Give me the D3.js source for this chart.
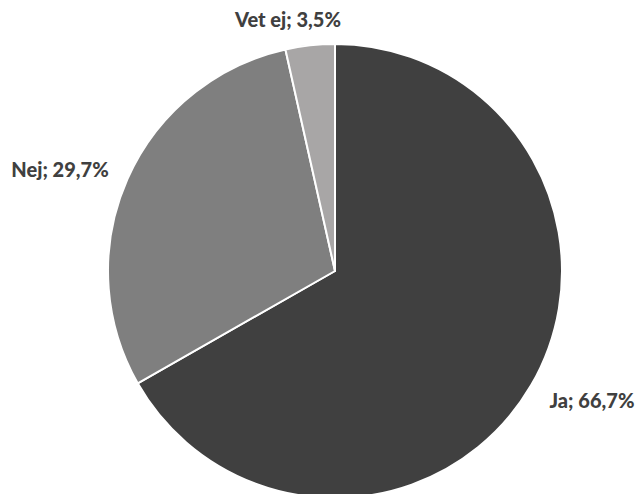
<!DOCTYPE html>
<html><head><meta charset="utf-8">
<script src="https://cdn.jsdelivr.net/npm/d3@7"></script>
<style>body{margin:0;background:#fff}</style>
</head><body>
<svg id="chart" width="637" height="494"></svg>
<script>
const categories = ["Ja", "Nej", "Vet ej"];
const values = [66.7, 29.7, 3.5];
const labels = ["Ja; 66,7%", "Nej; 29,7%", "Vet ej; 3,5%"];
const colors = ["#404040", "#7f7f7f", "#a8a6a6"];
const labelPos = [[592, 408, "middle"], [60, 177, "middle"], [288, 27, "middle"]];

const svg = d3.select("#chart");
const cx = 335, cy = 271, r = 227;
const data = categories.map((c, i) => ({c, v: values[i], i}));
const pie = d3.pie().value(d => d.v).sort(null);
const arc = d3.arc().innerRadius(0).outerRadius(r);
const g = svg.append("g").attr("transform", `translate(${cx},${cy})`);
g.selectAll("path").data(pie(data)).join("path")
  .attr("d", arc)
  .attr("fill", d => colors[d.data.i])
  .attr("stroke", "#fff").attr("stroke-width", 2).attr("stroke-linejoin", "round");

svg.selectAll("text.lbl").data(data).join("text")
  .attr("class", "lbl")
  .attr("x", d => labelPos[d.i][0]).attr("y", d => labelPos[d.i][1])
  .attr("text-anchor", d => labelPos[d.i][2])
  .attr("font-family", "Lato, sans-serif").attr("font-weight", "900")
  .attr("font-size", 20).attr("fill", "#404040")
  .text(d => labels[d.i]);
</script>
</body></html>
